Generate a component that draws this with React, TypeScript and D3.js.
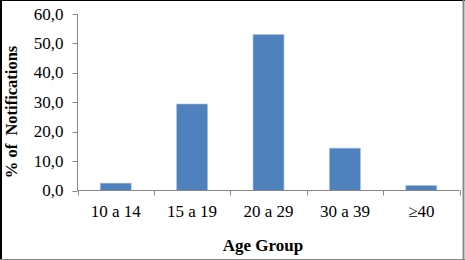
import React from "react";
import * as d3 from "d3";

const categories = ["10 a 14", "15 a 19", "20 a 29", "30 a 39", "≥40"];
const values = [2.5, 29.4, 53.0, 14.4, 1.7];
const yTicks = [0, 10, 20, 30, 40, 50, 60];

const W = 465;
const H = 260;

export default function App() {
  const x = d3.scaleBand<string>().domain(categories).range([77.5, 459.5]).padding(0);
  const y = d3.scaleLinear().domain([0, 60]).range([190.5, 14]);
  const barW = x.bandwidth() * 0.405;
  const fmt = (v: number) => d3.format(".1f")(v).replace(".", ",");
  const axisColor = "#868686";
  const font = "'Liberation Serif', 'Times New Roman', serif";
  const bounds = [...categories.map((c) => x(c)!), x(categories[categories.length - 1])! + x.bandwidth()];

  return (
    <svg
      width={W}
      height={H}
      style={{ position: "absolute", left: 0, top: 0, display: "block", background: "#fff" }}
    >
      <rect x={0} y={0} width={W} height={H} fill="#fff" />
      {/* frame */}
      <line x1={0} y1={0.5} x2={W} y2={0.5} stroke="#000" strokeWidth={1} />
      <line x1={1} y1={0} x2={1} y2={H} stroke="#000" strokeWidth={2} />
      <line x1={463.5} y1={0} x2={463.5} y2={H} stroke="#888" strokeWidth={2} />
      <line x1={0} y1={259.5} x2={W} y2={259.5} stroke="#888" strokeWidth={1} />

      {/* bars */}
      {categories.map((c, i) => {
        const cx = x(c)! + x.bandwidth() / 2;
        return (
          <rect
            key={c}
            x={cx - barW / 2}
            y={y(values[i])}
            width={barW}
            height={y(0) - y(values[i])}
            fill="#4F81BD"
            stroke="#a9bfdc"
            strokeWidth={0.6}
          />
        );
      })}

      {/* y axis */}
      <line x1={77.5} y1={y(60)} x2={77.5} y2={y(0)} stroke={axisColor} strokeWidth={1} />
      {yTicks.map((t) => (
        <g key={t}>
          <line x1={72.5} x2={77.5} y1={Math.round(y(t)) + 0.5} y2={Math.round(y(t)) + 0.5} stroke={axisColor} />
          <text
            x={63.5}
            y={y(t) + 5.5}
            textAnchor="end"
            fontFamily={font}
            fontSize={17}
            fill="#000"
          >
            {fmt(t)}
          </text>
        </g>
      ))}

      {/* x axis */}
      <line x1={77.5} y1={y(0)} x2={459.5} y2={y(0)} stroke={axisColor} strokeWidth={1} />
      {bounds.map((b, i) => (
        <line key={i} x1={Math.round(b) + 0.5} x2={Math.round(b) + 0.5} y1={y(0)} y2={y(0) + 5} stroke={axisColor} />
      ))}
      {categories.map((c) => (
        <text
          key={c}
          x={x(c)! + x.bandwidth() / 2}
          y={217}
          textAnchor="middle"
          fontFamily={font}
          fontSize={17}
          fill="#000"
        >
          {c}
        </text>
      ))}

      {/* axis titles */}
      <text
        x={263}
        y={251}
        textAnchor="middle"
        fontFamily={font}
        fontSize={17}
        fontWeight="bold"
        fill="#000"
      >
        Age Group
      </text>
      <text
        transform="translate(17,112) rotate(-90)"
        textAnchor="middle"
        fontFamily={font}
        fontSize={16.5}
        fontWeight="bold"
        fill="#000"
        style={{ whiteSpace: "pre" }}
      >
        {"% of  Notifications"}
      </text>
    </svg>
  );
}
